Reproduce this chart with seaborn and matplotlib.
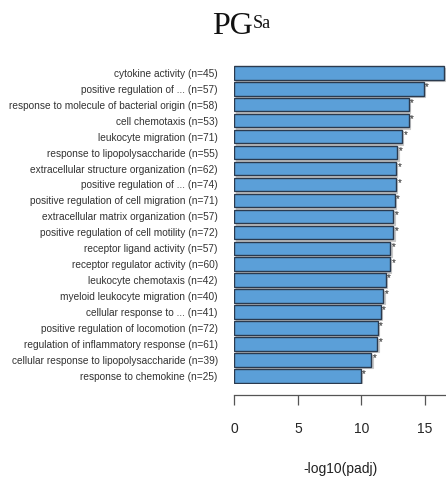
import matplotlib
matplotlib.use("Agg")
import matplotlib.pyplot as plt
from matplotlib.transforms import ScaledTranslation
import seaborn as sns
import pandas as pd

# GO terms, gene counts and enrichment significance
terms = [
    "cytokine activity",
    "positive regulation of ...",
    "response to molecule of bacterial origin",
    "cell chemotaxis",
    "leukocyte migration",
    "response to lipopolysaccharide",
    "extracellular structure organization",
    "positive regulation of ...",
    "positive regulation of cell migration",
    "extracellular matrix organization",
    "positive regulation of cell motility",
    "receptor ligand activity",
    "receptor regulator activity",
    "leukocyte chemotaxis",
    "myeloid leukocyte migration",
    "cellular response to ...",
    "positive regulation of locomotion",
    "regulation of inflammatory response",
    "cellular response to lipopolysaccharide",
    "response to chemokine",
]
counts = [45, 57, 58, 53, 71, 55, 62, 74, 71, 57, 72, 57, 60, 42, 40, 41, 72, 61, 39, 25]
neglog_padj = [16.5, 14.9, 13.73, 13.72, 13.2, 12.84, 12.73, 12.72, 12.63, 12.5,
               12.5, 12.26, 12.25, 11.92, 11.71, 11.53, 11.29, 11.26, 10.77, 9.95]
x_ticks = [0, 5, 10, 15]

labels = [f"{t} (n={n})" for t, n in zip(terms, counts)]
df = pd.DataFrame({"label": [f"{i:02d}" for i in range(len(labels))],
                   "value": neglog_padj})

sns.set_style("white")
plt.rcParams["font.family"] = ["Liberation Sans", "DejaVu Sans"]

fig = plt.figure(figsize=(4.46, 4.84), dpi=100)
ax = fig.add_axes([0.5254, 0.2068, 0.4746, 0.6593])

# drop shadow behind each bar
sns.barplot(data=df, x="value", y="label", orient="h", color="#c8c8c8",
            saturation=1, width=0.85, edgecolor="#c8c8c8", linewidth=0.8, ax=ax)
shift = ScaledTranslation(0.015, -0.015, fig.dpi_scale_trans)
for p in list(ax.patches):
    p.set_transform(ax.transData + shift)

sns.barplot(data=df, x="value", y="label", orient="h", color="#5b9fd8",
            saturation=1, width=0.85, edgecolor="#2b3a4e", linewidth=1.0, ax=ax)

# significance marks at the end of each bar
for i, v in enumerate(neglog_padj):
    ax.annotate("*", xy=(v, i - 0.32), xytext=(2.5, -2.5), textcoords="offset points",
                ha="center", va="center", fontsize=7, color="#222222",
                annotation_clip=False)

ax.set_xlim(0, 16.67)
ax.set_ylim(len(labels) - 0.5, -0.5)
ax.set_yticks(range(len(labels)))
ax.set_yticklabels(labels, fontsize=7.3, color="#333333")
ax.tick_params(axis="y", length=0, pad=12)

ax.set_xticks(x_ticks)
ax.set_xticklabels([str(t) for t in x_ticks], fontsize=10, color="#222222")
ax.tick_params(axis="x", direction="out", length=7.2, width=0.9, color="#555555",
               pad=12, bottom=True)
ax.set_xlabel("-log10(padj)", fontsize=10, color="#222222", labelpad=19)
ax.set_ylabel("")

for s in ["top", "right", "left"]:
    ax.spines[s].set_visible(False)
ax.spines["bottom"].set_position(("outward", 8))
ax.spines["bottom"].set_color("#555555")
ax.spines["bottom"].set_linewidth(0.9)

# title with superscript
pg = fig.text(0.4753, 1 - 34 / 484, "PG", family=["Liberation Serif", "DejaVu Serif"],
              fontsize=23, ha="left", va="baseline", color="#111111")
fig.canvas.draw()
ax.annotate("Sa", xy=(1.0, 1.0), xycoords=pg, xytext=(0, -2.5), textcoords="offset points",
            family=["Liberation Serif", "DejaVu Serif"], fontsize=13,
            ha="left", va="top", color="#111111", annotation_clip=False)

fig.savefig("out.png", dpi=100)
